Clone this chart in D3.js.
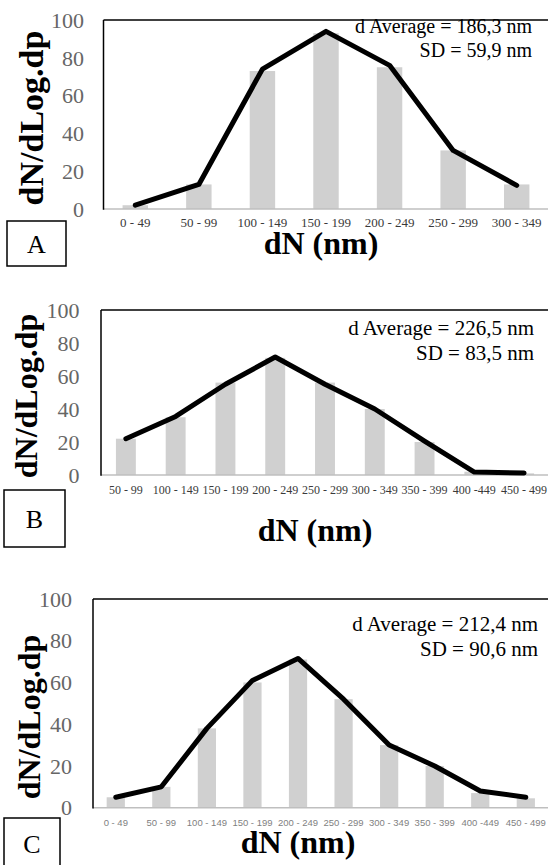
<!DOCTYPE html>
<html>
<head>
<meta charset="utf-8">
<script src="https://cdn.jsdelivr.net/npm/d3@7"></script>
<style>
  body { margin: 0; background: #fff; }
  svg { display: block; }
  text { font-family: "Liberation Serif", "Times New Roman", Times, "DejaVu Serif", serif; }
  text.sans { font-family: "Liberation Sans", Arial, sans-serif; }
</style>
</head>
<body>
<svg id="svg" width="548" height="865"></svg>
<script>
// data
var catsA = ["0 - 49", "50 - 99", "100 - 149", "150 - 199", "200 - 249", "250 - 299", "300 - 349"];
var barsA = [2, 13, 73, 93, 75, 31, 13];
var lineA = [2, 13, 74, 94, 76, 31, 12.5];

var catsB = ["50 - 99", "100 - 149", "150 - 199", "200 - 249", "250 - 299", "300 - 349", "350 - 399", "400 -449", "450 - 499"];
var barsB = [22, 35, 56, 71, 56, 40, 20, 2, 1];
var lineB = [22, 35.5, 55, 71.5, 55, 40, 20.5, 1.8, 1.2];

var catsC = ["0 - 49", "50 - 99", "100 - 149", "150 - 199", "200 - 249", "250 - 299", "300 - 349", "350 - 399", "400 -449", "450 - 499"];
var barsC = [5, 10, 38, 60, 71, 52, 30, 20, 7, 4.5];
var lineC = [5, 10, 38, 61, 71.5, 52, 30, 20, 8, 5];

var yTicks = [0, 20, 40, 60, 80, 100];

var notesA = ["d Average = 186,3 nm", "SD = 59,9 nm"];
var notesB = ["d Average = 226,5 nm", "SD = 83,5 nm"];
var notesC = ["d Average = 212,4 nm", "SD = 90,6 nm"];

var serif = "'Liberation Serif', 'Times New Roman', Times, serif";
var svg = d3.select("#svg");

drawPanel({
	cats: catsA, bars: barsA, line: lineA, notes: notesA, letter: "A",
	left: 103.5, right: 548.5, top: 20, bottom: 209,
	tickRight: 84, tickFont: 22,
	xLabelY: 227, xLabelFont: 13, xLabelColor: "#3a3a3a", sansLabels: false,
	noteRight: 532, noteY: [33, 57], noteFont: 20,
	yTitleX: 31.5, yTitleY: 118, yTitleFont: 34,
	xTitleX: 321, xTitleY: 254,
	box: [7, 221, 59, 45]
});

drawPanel({
	cats: catsB, bars: barsB, line: lineB, notes: notesB, letter: "B",
	left: 101, right: 549, top: 310, bottom: 475,
	tickRight: 79.5, tickFont: 22,
	xLabelY: 494, xLabelFont: 12, xLabelColor: "#3a3a3a", sansLabels: false,
	noteRight: 534, noteY: [335, 360], noteFont: 21,
	yTitleX: 25.5, yTitleY: 396, yTitleFont: 32,
	xTitleX: 315, xTitleY: 541,
	box: [4, 490, 61, 57]
});

drawPanel({
	cats: catsC, bars: barsC, line: lineC, notes: notesC, letter: "C",
	left: 93, right: 548.6, top: 599, bottom: 807.7,
	tickRight: 72, tickFont: 22,
	xLabelY: 826, xLabelFont: 9.5, xLabelColor: "#7f7f7f", sansLabels: true,
	noteRight: 538, noteY: [631, 656], noteFont: 21,
	yTitleX: 29, yTitleY: 717, yTitleFont: 32,
	xTitleX: 298, xTitleY: 853,
	box: [4, 818, 56, 52]
});

function drawPanel(p) {
	var g = svg.append("g").attr("font-family", serif);

	var x = d3.scaleBand()
		.domain(p.cats)
		.range([p.left, p.right])
		.paddingInner(0.6)
		.paddingOuter(0.3);

	var y = d3.scaleLinear()
		.domain([0, 100])
		.range([p.bottom, p.top]);

	// bars
	g.selectAll(".bar")
		.data(p.bars)
		.enter()
		.append("rect")
		.attr("class", "bar")
		.attr("x", function(d, i){return x(p.cats[i]);})
		.attr("y", function(d){return y(d);})
		.attr("width", x.bandwidth())
		.attr("height", function(d){return y(0) - y(d);})
		.attr("fill", "#d0d0d0");

	// frame: black top and left, grey baseline
	g.append("line")
		.attr("x1", p.left).attr("x2", 548)
		.attr("y1", p.top).attr("y2", p.top)
		.attr("stroke", "#000").attr("stroke-width", 1.5);
	g.append("line")
		.attr("x1", p.left).attr("x2", 548)
		.attr("y1", y(0)).attr("y2", y(0))
		.attr("stroke", "#bfbfbf").attr("stroke-width", 1.5);
	g.append("line")
		.attr("x1", p.left).attr("x2", p.left)
		.attr("y1", p.top).attr("y2", y(0) + 0.75)
		.attr("stroke", "#000").attr("stroke-width", 1.5);

	// line
	var lineGen = d3.line()
		.x(function(d, i){return x(p.cats[i]) + x.bandwidth()/2;})
		.y(function(d){return y(d);});
	g.append("path")
		.datum(p.line)
		.attr("d", lineGen)
		.attr("fill", "none")
		.attr("stroke", "#000")
		.attr("stroke-width", 5)
		.attr("stroke-linejoin", "round")
		.attr("stroke-linecap", "round");

	// y tick labels
	g.selectAll(".ytick")
		.data(yTicks)
		.enter()
		.append("text")
		.attr("x", p.tickRight)
		.attr("y", function(d){return y(d);})
		.attr("dy", "0.35em")
		.attr("text-anchor", "end")
		.attr("font-size", p.tickFont)
		.attr("fill", "#666")
		.text(function(d){return d;});

	// x tick labels
	g.selectAll(".xtick")
		.data(p.cats)
		.enter()
		.append("text")
		.attr("class", p.sansLabels ? "sans" : null)
		.attr("x", function(d){return x(d) + x.bandwidth()/2;})
		.attr("y", p.xLabelY)
		.attr("text-anchor", "middle")
		.attr("font-size", p.xLabelFont)
		.attr("fill", p.xLabelColor)
		.text(function(d){return d;});

	// notes
	g.selectAll(".note")
		.data(p.notes)
		.enter()
		.append("text")
		.attr("x", p.noteRight)
		.attr("y", function(d, i){return p.noteY[i];})
		.attr("text-anchor", "end")
		.attr("font-size", p.noteFont)
		.attr("fill", "#000")
		.text(function(d){return d;});

	// axis titles
	g.append("text")
		.attr("transform", "translate(" + p.yTitleX + "," + p.yTitleY + ") rotate(-90)")
		.attr("text-anchor", "middle")
		.attr("dy", "0.35em")
		.attr("font-size", p.yTitleFont)
		.attr("font-weight", "bold")
		.text("dN/dLog.dp");
	g.append("text")
		.attr("x", p.xTitleX)
		.attr("y", p.xTitleY)
		.attr("text-anchor", "middle")
		.attr("font-size", 32)
		.attr("font-weight", "bold")
		.text("dN (nm)");

	// letter box
	g.append("rect")
		.attr("x", p.box[0]).attr("y", p.box[1])
		.attr("width", p.box[2]).attr("height", p.box[3])
		.attr("fill", "none")
		.attr("stroke", "#000")
		.attr("stroke-width", 1.5);
	g.append("text")
		.attr("x", p.box[0] + p.box[2]/2)
		.attr("y", p.box[1] + p.box[3]/2)
		.attr("dy", "0.35em")
		.attr("text-anchor", "middle")
		.attr("font-size", 26)
		.text(p.letter);
}
</script>
</body>
</html>
